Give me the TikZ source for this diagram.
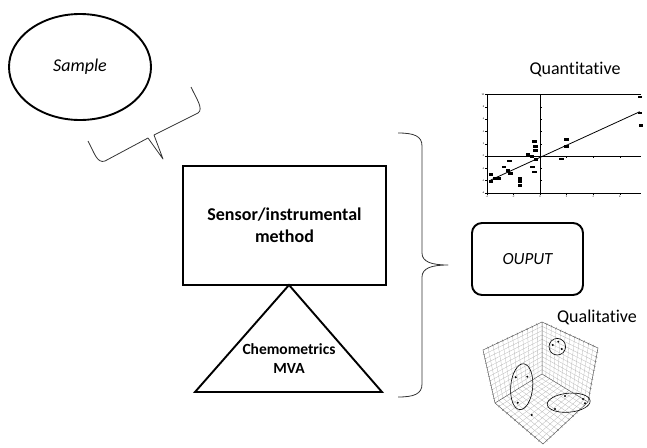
\documentclass[tikz,border=0pt]{standalone}
\usepackage{fontspec}
\setmainfont{Carlito}[Ligatures=NoCommon]
\usetikzlibrary{shapes.geometric,calc}

\begin{document}
\begin{tikzpicture}[x=1pt,y=-1pt,
        box/.style={draw,line width=1.9pt},
        brace/.style={draw=black!80,line width=0.8pt,line join=round},
        datamark/.style={fill=black,inner sep=0pt,minimum width=4.5pt,minimum height=2.8pt},
        gridline/.style={draw=black!28,line width=0.3pt},
        edgeline/.style={draw=black!65,line width=0.5pt}]
    \useasboundingbox (0,0) rectangle (647,447);
    % 样本
    \node[box,ellipse,minimum width=142,minimum height=106,
          font=\fontsize{18}{21}\selectfont\itshape] (sample) at (80,67) {Sample};
    % 小括号 (斜放)
    \draw[brace] (88,141) .. controls (94,152) and (97,164) .. (105,161)
        -- (148,138) -- (163,159) -- (154,135)
        -- (198,113) .. controls (204,109) and (196,98) .. (191,87);
    % 仪器方法
    \node[box,minimum width=203,minimum height=119,align=center,
          font=\fontsize{18}{22}\selectfont\bfseries] (sensor) at (284.5,225.5)
        {Sensor/instrumental\\method};
    % 三角形用 coordinate 画
    \coordinate (apex) at (289,285);
    \coordinate (baseL) at (195,392);
    \coordinate (baseR) at (382,392);
    \draw[box,line join=miter] (baseL) -- (baseR) -- (apex) -- cycle;
    \node[align=center,font=\fontsize{15.5}{19}\selectfont\bfseries] (mva) at (289,358.5)
        {Chemometrics\\MVA};
    % 大括号
    \draw[brace] (398,133) .. controls (414,133) and (422,136) .. (422,146)
        -- (422,253) .. controls (422,262) and (432,265) .. (448,265)
        .. controls (432,265) and (422,268) .. (422,277)
        -- (422,384) .. controls (422,394) and (414,397) .. (398,397);
    \node[box,rounded corners=10pt,minimum width=111,minimum height=72,
          font=\fontsize{17}{20}\selectfont\itshape] (output) at (527.5,259) {OUPUT};
    \node[font=\fontsize{18}{21}\selectfont] (quant) at (575,69) {Quantitative};
    \node[font=\fontsize{18}{21}\selectfont] (qual) at (597,317) {Qualitative};
    % 定量: 回归图
    \begin{scope}[shift={(540,156)},x=13.3pt,y=6.15pt]
        \draw[line width=0.6pt] (7.6,10) -- (-4,10) -- (-4,-6) -- (7.6,-6);
        \draw[line width=0.6pt] (-4,0) -- (7.6,0) (0,-6) -- (0,10);
        \foreach \v in {-6,-4,...,10}
            \draw[line width=0.4pt] (-4,\v) -- (-4.15,\v)
                node[left,inner sep=0.4pt,font=\fontsize{2.6}{3}\selectfont] {\v};
        \foreach \v in {-4,-2,...,6}
            \draw[line width=0.4pt] (\v,-6) -- (\v,-6.4)
                node[below,inner sep=0.4pt,font=\fontsize{2.6}{3}\selectfont] {\v};
        \foreach \v in {-4,-2,2,4,6,8}
            \draw[line width=0.4pt] (0,\v) -- (0.12,\v);
        \foreach \v in {2,4,6}
            \draw[line width=0.4pt] (\v,0) -- (\v,-0.35);
        \draw[line width=0.8pt] (-3.7,-3.9) -- (7.5,7.2);
        \foreach \px/\py [count=\i] in {7.5/9.6,7.5/7,7.6/4.9,2/2.7,2/1.5,1.6/-0.5,
                -0.4/2.3,-0.35/1.6,-0.35/0.9,-0.9/0.2,-0.6/-0.1,-0.3/-0.6,-2.3/-0.8,
                -2.7/-1.8,-2.4/-2.4,-2.2/-2.9,-3.7/-3,-3.4/-3.6,-3.1/-3.6,-3.7/-4.2,
                -1.5/-3.6,-1.5/-4.2,-1.5/-4.8,-0.55/-1.8,-0.4/-2.6}
            \node[datamark] (q\i) at (\px,\py) {};
    \end{scope}
    % 定性: 三维得分图
    \coordinate (T) at (542,322);
    \coordinate (B) at (542,374);
    \coordinate (LT) at (483,350);
    \coordinate (LB) at (495,403);
    \coordinate (RT) at (598,348);
    \coordinate (RB) at (588,402);
    \coordinate (F) at (543,444);
    \foreach \i in {1,...,11} {
        \draw[gridline] ($(LT)!\i/12!(T)$) -- ($(LB)!\i/12!(B)$);
        \draw[gridline] ($(LT)!\i/12!(LB)$) -- ($(T)!\i/12!(B)$);
        \draw[gridline] ($(T)!\i/12!(RT)$) -- ($(B)!\i/12!(RB)$);
        \draw[gridline] ($(T)!\i/12!(B)$) -- ($(RT)!\i/12!(RB)$);
        \draw[gridline] ($(LB)!\i/12!(B)$) -- ($(F)!\i/12!(RB)$);
        \draw[gridline] ($(LB)!\i/12!(F)$) -- ($(B)!\i/12!(RB)$);
    }
    \draw[edgeline] (LT) -- (T) -- (RT) -- (RB) -- (F) -- (LB) -- cycle;
    \draw[edgeline] (T) -- (B) -- (LB) (B) -- (RB);
    \foreach \a/\b in {LT/T,T/RT,RT/RB,F/RB,LB/F,LT/LB}
        \foreach \i in {1,...,11}
            \draw[black!55,line width=0.3pt] ($($(\a)!\i/12!(\b)$)!1.2pt!90:(\b)$)
                -- ($($(\a)!\i/12!(\b)$)!1.2pt!-90:(\b)$);
    \draw[line width=0.6pt,rotate around={-5:(521.7,386.7)}] (521.7,386.7) ellipse (11 and 23);
    \draw[line width=0.6pt] (557.3,346.7) circle (8.3);
    \draw[line width=0.6pt,rotate around={5:(568.7,402.7)}] (568.7,402.7) ellipse (21.5 and 9.5);
    \foreach \px/\py in {515.7/377.3,527.3/376.7,517.7/402.7,552.7/345,558.3/341.7,
            561.7/349,565/396,555/409,585/403.3,583/399,531.7/415}
        \fill (\px,\py) circle (1.1);
\end{tikzpicture}
\end{document}
